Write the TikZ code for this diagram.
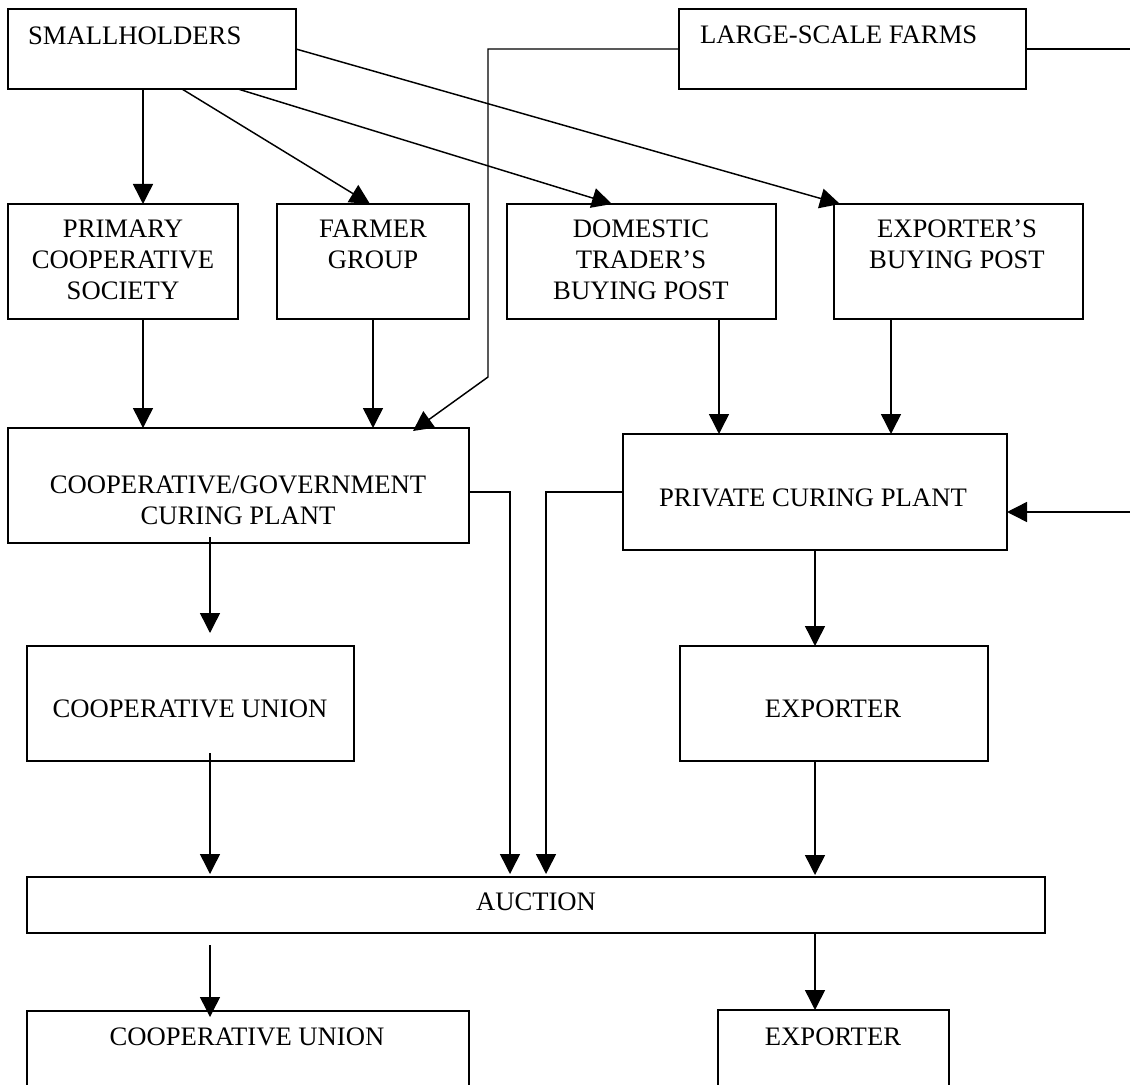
\documentclass[tikz,border=0pt]{standalone}
\usepackage{fontspec}
\setmainfont{Liberation Serif}
\usetikzlibrary{arrows.meta,calc}
\begin{document}
\begin{tikzpicture}[x=0.75pt,y=-0.75pt,
  box/.style 2 args={draw,line width=1.1pt,inner sep=0pt,outer sep=0pt,minimum width=#1*0.75pt,minimum height=#2*0.75pt},
  lbl/.style={inner sep=0pt,outer sep=0pt,align=center,font=\fontsize{20}{23.25}\selectfont},
  arr/.style={line width=1.1pt,-{Triangle[length=15pt,width=15pt]}},
  ln/.style={line width=1.1pt}]
\useasboundingbox (0,0) rectangle (1130,1084);
\clip (0,0) rectangle (1130,1084);
\fill[white] (0,0) rectangle (1130,1084);
% boxes
\node[box={288}{80}] (sh) at (152,49) {};
\node[box={347}{80}] (lsf) at (852.5,49) {};
\node[box={230}{115}] (pcs) at (123,261.5) {};
\node[box={192}{115}] (fg) at (373,261.5) {};
\node[box={269}{115}] (dt) at (641.5,261.5) {};
\node[box={249}{115}] (ebp) at (958.5,261.5) {};
\node[box={461}{115}] (cp) at (238.5,485.5) {};
\node[box={384}{116}] (pp) at (815,492) {};
\node[box={327}{115}] (cu) at (190.5,703.5) {};
\node[box={308}{115}] (ex) at (834,703.5) {};
\node[box={1018}{56}] (au) at (536,905) {};
\node[box={442}{120}] (cu2) at (248,1071) {};
\node[box={231}{120}] (ex2) at (833.5,1070) {};
% texts
\node[lbl,anchor=base west] (sh-t) at (28,45) {SMALLHOLDERS};
\node[lbl,anchor=base west] (lsf-t) at (700,44) {LARGE-SCALE FARMS};
\node[lbl,anchor=north] (pcs-t) at (123,220) {PRIMARY\\COOPERATIVE\\SOCIETY};
\node[lbl,anchor=north] (fg-t) at (373,220) {FARMER\\GROUP};
\node[lbl,anchor=north] (dt-t) at (641,220) {DOMESTIC\\TRADER’S\\BUYING POST};
\node[lbl,anchor=north] (ebp-t) at (957,220) {EXPORTER’S\\BUYING POST};
\node[lbl] (cp-t) at (238,500) {COOPERATIVE/GOVERNMENT\\CURING PLANT};
\node[lbl] (pp-t) at (813,498) {PRIVATE CURING PLANT};
\node[lbl] (cu-t) at (190,709) {COOPERATIVE UNION};
\node[lbl] (ex-t) at (833,709) {EXPORTER};
\node[lbl] (au-t) at (536,902) {AUCTION};
\node[lbl] (cu2-t) at (247,1037) {COOPERATIVE UNION};
\node[lbl] (ex2-t) at (833,1037) {EXPORTER};
% connectors from smallholders
\draw[arr] ($(sh.south west)+(135,0)$) coordinate (a1) -- (a1 |- pcs.north);
\draw[arr] ($(sh.south west)+(174,0)$) -- ($(fg.north west)+(93,0)$);
\draw[arr] ($(sh.south west)+(230,0)$) -- ($(dt.north west)+(105,0)$);
\draw[arr] (sh.east) -- ($(ebp.north west)+(6,0)$);
% large-scale farms
\coordinate (k1) at (488,377);
\draw[arr] (lsf.west) -| (k1) -- ($(cp.north west)+(405,3)$);
\coordinate (r1) at (1130,49);
\draw[ln] (lsf.east) -- (r1);
\coordinate (r2) at (1130,512);
\draw[arr] (r2) -- (pp.east |- r2);
% row 2 to curing plants
\draw[arr] ($(pcs.south west)+(135,0)$) coordinate (a2) -- (a2 |- cp.north);
\draw[arr] (fg.south) -- (fg.south |- cp.north);
\draw[arr] ($(dt.south west)+(212,0)$) coordinate (a3) -- (a3 |- pp.north);
\draw[arr] ($(ebp.south west)+(57,0)$) coordinate (a4) -- (a4 |- pp.north);
% curing plants down
\draw[arr] ($(cp.south west)+(202,-6)$) coordinate (a5) -- ($(a5 |- cu.north)+(0,-13)$);
\draw[arr] ($(cu.south west)+(183,-8)$) coordinate (a6) -- ($(a6 |- au.north)+(0,-3)$);
\draw[arr] ($(cp.east)+(0,6.5)$) -- ++(41,0) coordinate (c2) -- ($(c2 |- au.north)+(0,-3)$);
\draw[arr] (pp.west) -- ++(-77,0) coordinate (c3) -- ($(c3 |- au.north)+(0,-3)$);
\draw[arr] (pp.south) -- (pp.south |- ex.north);
\draw[arr] ($(ex.south west)+(135,0)$) coordinate (a7) -- ($(a7 |- au.north)+(0,-2)$);
% auction down
\draw[arr] ($(au.south west)+(183,12)$) coordinate (a8) -- ($(a8 |- cu2.north)+(0,6)$);
\draw[arr] ($(au.south west)+(788,0)$) coordinate (a9) -- (a9 |- ex2.north);
\end{tikzpicture}
\end{document}
